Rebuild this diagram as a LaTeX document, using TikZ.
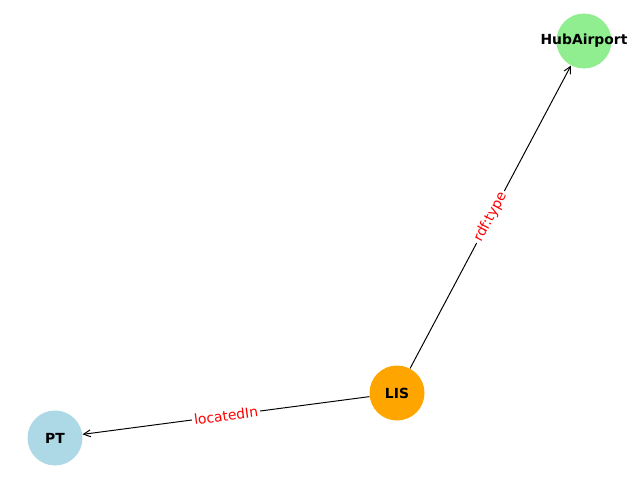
\documentclass[tikz,border=0pt]{standalone}
\usepackage{fontspec}
\setmainfont{DejaVu Sans}
\usetikzlibrary{arrows.meta}
\definecolor{hubgreen}{HTML}{90EE90}
\definecolor{lisorange}{HTML}{FFA500}
\definecolor{ptblue}{HTML}{ADD8E6}
\begin{document}
\begin{tikzpicture}[x=0.72pt,y=-0.72pt,
    vertex/.style={circle,minimum size=39.6pt,inner sep=0pt},
    rel/.style={-{Straight Barb[length=5pt,width=5pt]},line width=0.7pt},
    rellabel/.style={sloped,fill=white,text=red,font=\fontsize{10}{12}\selectfont,inner sep=1.5pt}]
    \useasboundingbox (0,0) rectangle (640,480);
    \node[vertex,fill=hubgreen,label={[font=\bfseries\fontsize{10}{12}\selectfont]center:HubAirport}] (hub) at (584,41) {};
    \node[vertex,fill=lisorange,label={[font=\bfseries\fontsize{10}{12}\selectfont]center:LIS}] (lis) at (397,393) {};
    \node[vertex,fill=ptblue,label={[font=\bfseries\fontsize{10}{12}\selectfont]center:PT}] (pt) at (55,438) {};
    \draw [rel] (lis) -- node[rellabel]{rdf:type} (hub) ;
    \draw [rel] (lis) -- node[rellabel]{locatedIn} (pt) ;
\end{tikzpicture}
\end{document}
